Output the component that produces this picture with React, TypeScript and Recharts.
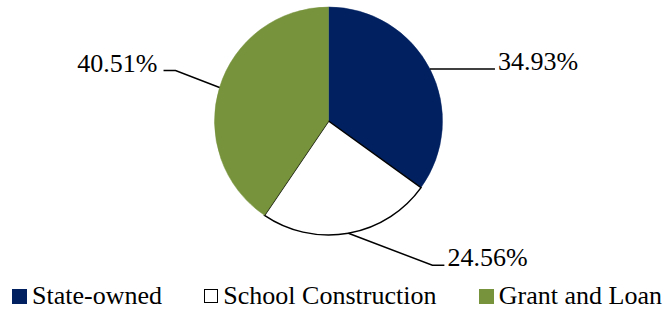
import { Cell, Legend, Pie, PieChart } from "recharts";

const categories = ["State-owned", "School Construction", "Grant and Loan"];
const shares = [34.93, 24.56, 40.51];
const colors = ["#002060", "#ffffff", "#77933c"];

// leader line bends, relative to the point on the rim
const labelBends = [
  { dx: 0, dy: 0, run: 65 },
  { dx: 84, dy: 32, run: 12 },
  { dx: -44, dy: -17, run: -12 },
];

const FONT = "Liberation Serif";
const RAD = Math.PI / 180;

const chartData = categories.map((name, i) => ({ name, value: shares[i] }));

function renderLabel(props: any) {
  const { cx, cy, midAngle, outerRadius, index, value } = props;
  const bend = labelBends[index];
  const x0 = cx + outerRadius * Math.cos(-midAngle * RAD);
  const y0 = cy + outerRadius * Math.sin(-midAngle * RAD);
  const x1 = x0 + bend.dx;
  const y1 = y0 + bend.dy;
  const x2 = x1 + bend.run;
  const right = bend.run >= 0;
  return (
    <g key={"lbl" + index}>
      <polyline
        points={`${x0},${y0} ${x1},${y1} ${x2},${y1}`}
        fill="none"
        stroke="#000"
        strokeWidth={1.5}
      />
      <text
        x={right ? x2 + 3 : x2 - 6}
        y={y1 + 1}
        textAnchor={right ? "start" : "end"}
        fontFamily={FONT}
        fontSize={26}
        fill="#000"
      >
        {value.toFixed(2)}%
      </text>
    </g>
  );
}

function renderLegend() {
  return (
    <div
      style={{
        display: "flex",
        justifyContent: "space-between",
        alignItems: "center",
        padding: "0 3px 0 12px",
        fontFamily: FONT,
        fontSize: 26,
        lineHeight: "24px",
        color: "#000",
      }}
    >
      {categories.map((name, i) => (
        <div key={name} style={{ display: "flex", alignItems: "center" }}>
          <span
            style={{
              display: "inline-block",
              width: i === 1 ? 12 : 15,
              height: i === 1 ? 12 : 15,
              background: colors[i],
              border: i === 1 ? "1.5px solid #000" : "none",
              marginRight: 5,
            }}
          />
          <span>{name}</span>
        </div>
      ))}
    </div>
  );
}

export default function App() {
  return (
    <div style={{ position: "absolute", left: 0, top: 0, fontFamily: FONT }}>
      <PieChart
        width={665}
        height={309}
        margin={{ top: 0, right: 0, bottom: 0, left: 0 }}
      >
        <Pie
          data={chartData}
          dataKey="value"
          nameKey="name"
          cx={328.5}
          cy={121}
          outerRadius={114}
          startAngle={90}
          endAngle={-270}
          label={renderLabel}
          labelLine={false}
          isAnimationActive={false}
        >
          {chartData.map((d, i) => (
            <Cell
              key={d.name}
              fill={colors[i]}
              stroke={i === 1 ? "#000" : colors[i]}
              strokeWidth={i === 1 ? 1.5 : 0.5}
            />
          ))}
        </Pie>
        <Legend
          content={renderLegend}
          wrapperStyle={{ left: 0, top: 284, width: 665 }}
        />
      </PieChart>
    </div>
  );
}
